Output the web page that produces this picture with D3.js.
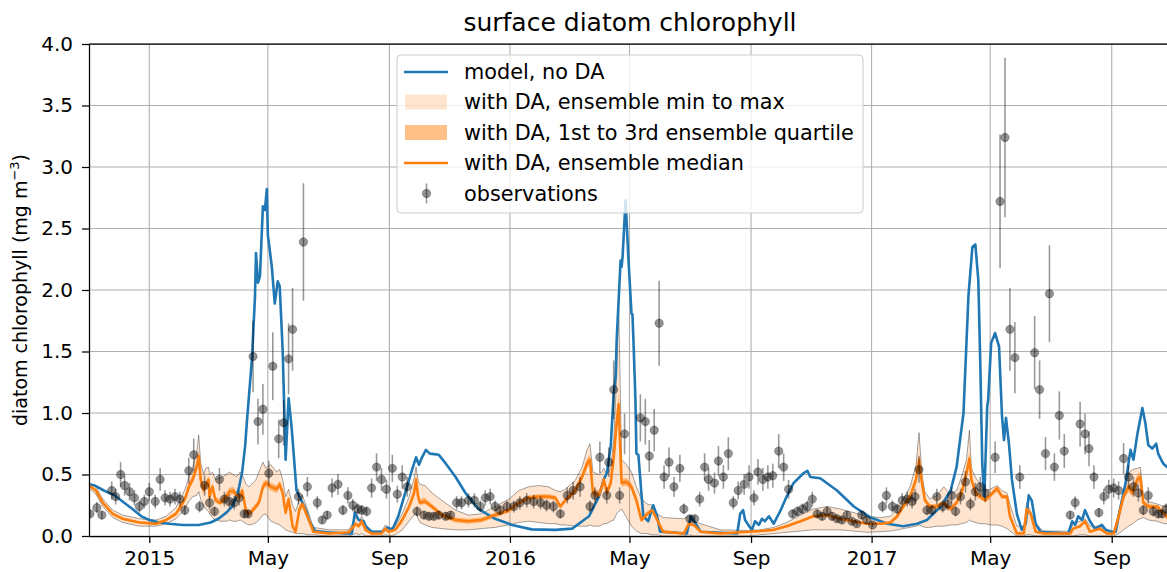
<!DOCTYPE html>
<html><head><meta charset="utf-8">
<script src="https://cdn.jsdelivr.net/npm/d3@7"></script>
<style>body{margin:0;background:#fff;} svg{display:block;font-family:"DejaVu Sans",sans-serif;}</style>
</head><body><svg id="chart" width="1167" height="572"></svg>
<script>
// ---- DATA (days are counted from 2015-01-01) ----
const modelNoDA = [[-61,0.42],[-55,0.41],[-46,0.37],[-35,0.33],[-27,0.28],[-17,0.22],[-8,0.16],[0,0.13],[10,0.11],[20,0.10],[34,0.09],[50,0.09],[62,0.11],[70,0.14],[78,0.19],[84,0.24],[88,0.32],[91,0.40],[94,0.52],[97,0.73],[99,0.95],[101,1.15],[104,1.45],[107,1.95],[108,2.30],[110,2.06],[112,2.11],[115,2.68],[117,2.65],[119,2.82],[120,2.45],[124,2.19],[127,1.89],[130,2.07],[132,2.03],[135,1.51],[137,0.92],[138,0.62],[141,1.12],[144,0.89],[149,0.37],[155,0.27],[159,0.20],[162,0.12],[168,0.04],[180,0.03],[199,0.02],[205,0.02],[208,0.19],[212,0.13],[217,0.12],[219,0.08],[225,0.035],[236,0.035],[241,0.07],[246,0.05],[252,0.16],[259,0.35],[266,0.54],[270,0.64],[273,0.58],[276,0.64],[280,0.70],[284,0.67],[293,0.66],[300,0.59],[310,0.48],[320,0.35],[333,0.22],[350,0.14],[367,0.09],[387,0.054],[411,0.05],[428,0.06],[445,0.16],[455,0.32],[460,0.46],[463,0.51],[467,0.73],[470,1.16],[472,1.3],[473,1.59],[475,1.92],[477,2.24],[478,2.19],[479,2.27],[482,2.73],[485,2.24],[488,1.81],[489,1.80],[490,1.59],[492,1.11],[493,0.67],[495,0.66],[498,0.35],[500,0.16],[505,0.12],[510,0.25],[514,0.16],[517,0.035],[544,0.02],[548,0.16],[553,0.10],[558,0.035],[595,0.02],[598,0.18],[601,0.21],[603,0.13],[607,0.08],[610,0.05],[613,0.12],[617,0.09],[620,0.14],[623,0.12],[627,0.16],[632,0.10],[639,0.21],[645,0.32],[652,0.43],[662,0.51],[666,0.53],[669,0.48],[679,0.47],[696,0.37],[713,0.24],[730,0.15],[747,0.10],[763,0.08],[777,0.10],[787,0.13],[801,0.24],[811,0.37],[817,0.56],[824,1.0],[829,1.95],[833,2.35],[836,2.37],[839,2.08],[841,1.40],[843,0.59],[845,0.30],[848,1.05],[849,1.11],[852,1.57],[856,1.65],[860,1.54],[863,0.97],[865,0.78],[867,0.96],[870,0.75],[873,0.46],[878,0.18],[883,0.05],[887,0.10],[890,0.33],[893,0.29],[897,0.10],[902,0.035],[930,0.02],[934,0.12],[937,0.09],[940,0.16],[944,0.13],[947,0.21],[952,0.12],[957,0.06],[964,0.09],[968,0.05],[974,0.035],[978,0.035],[981,0.16],[988,0.43],[993,0.70],[996,0.62],[1000,0.83],[1005,1.04],[1008,0.92],[1011,0.74],[1015,0.71],[1019,0.75],[1021,0.67],[1026,0.59],[1030,0.56],[1034,0.55]];

const ensDays = [-61,-54,-47,-37,-27,-10,7,17,27,34, 37,40,44,48,50,52,55,57,60,61, 64,67,72,78,81,85,88,92,94,98, 101,106,108,111,115,118,123,129,132,135, 138,141,145,148,152,155,160,164,166,182, 202,209,212,215,219,225,235,239,242,249, 256,263,268,270,272,274,279,286,296,310, 323,336,350,364,374,384,394,404,411,416, 421,431,438,443,446,449,455,458,460,463, 467,470,473,475,478,483,488,493,498,504, 509,514,520,541,546,551,558,578,605,618, 632,645,659,672,686,699,713,726,740,750, 757,763,770,776,779,782,785,790,797,804, 811,817,822,827,830,832,836,841,846,851, 858,863,868,871,878,885,888,892,897,905, 932,935,942,947,952,962,969,976,981,986, 991,995,1000,1003,1006,1011,1020,1027,1030,1034];
const ensMin = [0.39,0.34,0.24,0.15,0.11,0.08,0.08,0.10,0.14,0.20, 0.24,0.28,0.32,0.33,0.36,0.30,0.25,0.22,0.20,0.18, 0.15,0.13,0.12,0.12,0.13,0.12,0.12,0.13,0.12,0.10, 0.09,0.10,0.11,0.13,0.17,0.18,0.12,0.10,0.09,0.07, 0.05,0.04,0.03,0.02,0.02,0.02,0.01,0.01,0.01,0.0, 0.0,0.02,0.01,0.02,0.0,0.0,0.0,0.01,0.0,0.01, 0.05,0.12,0.17,0.19,0.14,0.11,0.09,0.07,0.06,0.05, 0.05,0.06,0.07,0.09,0.11,0.12,0.11,0.10,0.10,0.09, 0.09,0.08,0.08,0.08,0.09,0.08,0.08,0.09,0.10,0.10, 0.12,0.13,0.18,0.20,0.22,0.15,0.08,0.04,0.02,0.02, 0.01,0.01,0.0,0.0,0.01,0.0,0.0,0.0,0.0,0.01, 0.02,0.03,0.04,0.05,0.05,0.05,0.04,0.03,0.035,0.04, 0.05,0.06,0.07,0.08,0.09,0.08,0.07,0.07,0.08,0.08, 0.09,0.09,0.10,0.11,0.13,0.12,0.11,0.10,0.10,0.09, 0.09,0.08,0.06,0.04,0.0,0.0,0.01,0.01,0.0,0.0, 0.0,0.0,0.01,0.01,0.0,0.0,0.0,0.0,0.02,0.05, 0.08,0.10,0.13,0.14,0.15,0.13,0.12,0.10,0.10,0.10];
const ensQ1 = [0.40,0.36,0.26,0.17,0.13,0.10,0.09,0.12,0.17,0.25, 0.30,0.37,0.43,0.52,0.60,0.43,0.34,0.38,0.43,0.29, 0.37,0.27,0.25,0.29,0.33,0.34,0.30,0.29,0.34,0.18, 0.16,0.20,0.22,0.25,0.37,0.40,0.37,0.35,0.39,0.32, 0.17,0.27,0.07,0.03,0.19,0.23,0.14,0.07,0.03,0.015, 0.02,0.08,0.07,0.10,0.04,0.015,0.015,0.05,0.03,0.04, 0.11,0.22,0.32,0.43,0.29,0.25,0.26,0.22,0.15,0.11, 0.10,0.11,0.15,0.19,0.25,0.29,0.30,0.30,0.29,0.22, 0.27,0.34,0.45,0.55,0.58,0.32,0.30,0.37,0.43,0.32, 0.40,0.58,0.84,0.98,0.40,0.41,0.37,0.26,0.11,0.16, 0.19,0.11,0.03,0.015,0.09,0.08,0.03,0.015,0.03,0.035, 0.045,0.07,0.11,0.15,0.16,0.13,0.11,0.09,0.09,0.10, 0.14,0.22,0.29,0.42,0.57,0.40,0.27,0.22,0.22,0.25, 0.20,0.25,0.32,0.47,0.58,0.43,0.32,0.30,0.27,0.31, 0.36,0.30,0.30,0.14,0.015,0.015,0.20,0.16,0.03,0.015, 0.015,0.05,0.07,0.11,0.03,0.05,0.015,0.015,0.14,0.29, 0.36,0.32,0.42,0.44,0.25,0.22,0.22,0.17,0.14,0.13];
const ensMedian = [0.41,0.37,0.27,0.18,0.14,0.11,0.10,0.13,0.18,0.27, 0.32,0.40,0.46,0.56,0.65,0.46,0.37,0.41,0.46,0.32, 0.40,0.29,0.27,0.32,0.36,0.37,0.33,0.32,0.37,0.20, 0.18,0.22,0.24,0.27,0.40,0.43,0.40,0.38,0.42,0.35, 0.19,0.30,0.08,0.035,0.22,0.26,0.16,0.08,0.035,0.02, 0.03,0.10,0.08,0.12,0.05,0.02,0.02,0.06,0.035,0.05, 0.13,0.24,0.35,0.46,0.32,0.27,0.28,0.24,0.17,0.13, 0.12,0.13,0.17,0.21,0.27,0.31,0.32,0.32,0.31,0.24, 0.29,0.37,0.48,0.59,0.62,0.35,0.33,0.40,0.46,0.35, 0.43,0.64,0.92,1.07,0.43,0.44,0.40,0.29,0.13,0.18, 0.21,0.13,0.035,0.02,0.10,0.09,0.035,0.02,0.035,0.04, 0.05,0.08,0.12,0.16,0.17,0.14,0.12,0.10,0.10,0.11, 0.16,0.24,0.32,0.46,0.62,0.43,0.29,0.24,0.24,0.27, 0.22,0.27,0.35,0.51,0.63,0.46,0.35,0.32,0.29,0.33, 0.39,0.32,0.32,0.16,0.02,0.02,0.22,0.18,0.035,0.02, 0.02,0.06,0.08,0.12,0.035,0.06,0.02,0.02,0.16,0.32, 0.40,0.35,0.46,0.48,0.27,0.24,0.24,0.18,0.15,0.14];
const ensQ3 = [0.42,0.38,0.28,0.19,0.15,0.12,0.11,0.14,0.20,0.29, 0.35,0.43,0.50,0.60,0.70,0.50,0.41,0.44,0.49,0.36, 0.43,0.32,0.30,0.35,0.39,0.40,0.36,0.35,0.40,0.23, 0.20,0.25,0.27,0.30,0.44,0.46,0.43,0.41,0.45,0.38, 0.22,0.33,0.10,0.05,0.25,0.29,0.18,0.09,0.04,0.025, 0.035,0.11,0.09,0.13,0.06,0.025,0.025,0.07,0.04,0.06, 0.15,0.26,0.38,0.49,0.35,0.30,0.31,0.26,0.19,0.15, 0.14,0.15,0.19,0.23,0.29,0.33,0.34,0.34,0.33,0.26, 0.31,0.40,0.51,0.63,0.66,0.39,0.37,0.43,0.49,0.39, 0.47,0.70,1.00,1.16,0.47,0.47,0.43,0.32,0.15,0.20, 0.23,0.15,0.05,0.03,0.11,0.10,0.04,0.025,0.04,0.045, 0.055,0.09,0.13,0.17,0.18,0.15,0.13,0.11,0.11,0.12, 0.18,0.26,0.35,0.50,0.67,0.46,0.31,0.26,0.26,0.29, 0.24,0.29,0.38,0.55,0.68,0.49,0.38,0.34,0.31,0.35, 0.40,0.34,0.33,0.18,0.03,0.03,0.24,0.19,0.045,0.025, 0.025,0.07,0.09,0.13,0.045,0.07,0.025,0.025,0.18,0.35, 0.44,0.39,0.50,0.52,0.29,0.26,0.25,0.20,0.17,0.16];
const ensMax = [0.43,0.40,0.30,0.21,0.17,0.14,0.13,0.16,0.23,0.34, 0.40,0.48,0.56,0.68,0.82,0.60,0.50,0.55,0.56,0.50, 0.52,0.46,0.47,0.50,0.52,0.50,0.48,0.52,0.50,0.42, 0.40,0.44,0.46,0.52,0.60,0.55,0.58,0.52,0.54,0.46, 0.32,0.38,0.25,0.20,0.30,0.33,0.22,0.12,0.07,0.05, 0.05,0.15,0.12,0.16,0.09,0.04,0.04,0.09,0.06,0.08, 0.18,0.32,0.47,0.56,0.45,0.42,0.41,0.35,0.29,0.21, 0.17,0.18,0.24,0.30,0.37,0.40,0.41,0.40,0.37,0.36, 0.38,0.45,0.56,0.70,0.75,0.52,0.50,0.52,0.55,0.50, 0.55,0.78,1.30,1.90,0.62,0.58,0.52,0.40,0.30,0.26, 0.25,0.18,0.15,0.14,0.16,0.12,0.10,0.05,0.045,0.05, 0.07,0.11,0.17,0.22,0.24,0.22,0.19,0.16,0.15,0.16, 0.22,0.30,0.40,0.58,0.84,0.50,0.36,0.30,0.33,0.40, 0.34,0.37,0.48,0.62,0.86,0.55,0.48,0.42,0.37,0.38, 0.41,0.37,0.35,0.26,0.08,0.08,0.27,0.20,0.10,0.04, 0.04,0.10,0.12,0.14,0.08,0.08,0.04,0.03,0.19,0.37, 0.51,0.54,0.55,0.56,0.32,0.28,0.26,0.24,0.24,0.22];

const obsDays = [-60,-53,-48,-38,-34,-29,-25,-20,-15,-10,-5,0,6,11,16,21,26,31,36,40,45,51,56,61,66,71,76,81,86,91,96,100,105,110,115,121,125,131,136,141,145,151,156,160,170,175,180,185,191,196,201,206,211,215,220,225,230,235,240,246,251,256,261,271,278,283,288,293,300,305,311,316,323,329,335,340,345,350,355,362,369,375,382,389,396,402,409,416,423,429,436,446,451,456,463,465,470,476,481,497,502,506,511,516,521,526,531,537,541,547,552,557,562,566,572,576,581,586,591,596,602,607,612,616,621,626,631,637,642,647,651,656,661,666,671,676,681,686,691,696,701,706,711,716,721,726,732,742,746,752,757,762,767,772,775,779,787,792,797,803,808,812,816,821,826,831,836,841,846,856,861,866,871,876,881,896,901,907,911,916,921,926,932,937,942,947,951,956,961,966,971,976,981,986,991,996,1001,1006,1011,1016,1021,1025,1029];
const obsValues = [0.18,0.23,0.17,0.37,0.32,0.50,0.41,0.36,0.31,0.24,0.28,0.36,0.28,0.46,0.31,0.30,0.32,0.30,0.21,0.53,0.66,0.24,0.41,0.27,0.20,0.46,0.30,0.28,0.27,0.31,0.18,0.18,1.46,0.93,1.03,0.51,1.38,0.79,0.92,1.44,1.68,0.32,2.39,0.40,0.27,0.13,0.17,0.39,0.42,0.21,0.33,0.25,0.22,0.21,0.20,0.39,0.56,0.46,0.38,0.55,0.34,0.48,0.40,0.20,0.17,0.16,0.16,0.17,0.16,0.17,0.27,0.27,0.29,0.29,0.24,0.31,0.32,0.24,0.21,0.24,0.24,0.27,0.29,0.28,0.27,0.25,0.24,0.18,0.33,0.37,0.40,0.24,0.33,0.64,0.33,0.60,1.19,0.33,0.83,0.96,0.93,0.65,0.86,1.73,0.48,0.60,0.40,0.55,0.22,0.14,0.14,0.30,0.56,0.46,0.43,0.61,0.48,0.67,0.27,0.37,0.42,0.48,0.31,0.52,0.46,0.48,0.49,0.69,0.56,0.38,0.18,0.20,0.22,0.24,0.30,0.18,0.16,0.20,0.16,0.14,0.13,0.17,0.12,0.10,0.17,0.13,0.09,0.24,0.33,0.24,0.22,0.29,0.30,0.28,0.32,0.54,0.21,0.21,0.32,0.24,0.26,0.33,0.20,0.32,0.44,0.26,0.36,0.40,0.35,0.64,2.72,3.24,1.68,1.45,0.48,1.49,1.19,0.67,1.97,0.56,0.98,0.69,0.17,0.27,0.91,0.83,0.71,0.48,0.19,0.32,0.38,0.39,0.37,0.63,0.48,0.40,0.35,0.21,0.33,0.20,0.18,0.18,0.22];
const obsRelError = 0.2;

const xTickDates = ["2015-01-01","2015-05-01","2015-09-01","2016-01-01","2016-05-01","2016-09-01","2017-01-01","2017-05-01","2017-09-01"];
const xTickLabels = ["2015","May","Sep","2016","May","Sep","2017","May","Sep"];
const yTicks = [0,0.5,1.0,1.5,2.0,2.5,3.0,3.5,4.0];
const legendLabels = ["model, no DA","with DA, ensemble min to max","with DA, 1st to 3rd ensemble quartile","with DA, ensemble median","observations"];

// ---- CHART ----
const C0 = "#1f77b4", C1 = "#ff7f0e";
const FS = 20;
const L = 89, R = 1171, T = 44, B = 536;
const base = Date.UTC(2015,0,1);
const toDate = d => new Date(base + d*86400000);
const parseD = s => { const p = s.split("-").map(Number); return new Date(Date.UTC(p[0],p[1]-1,p[2])); };

const svg = d3.select("#chart");
const x = d3.scaleUtc().domain([new Date(Date.UTC(2014,10,1)), new Date(Date.UTC(2017,9,31))]).range([L,R]);
const y = d3.scaleLinear().domain([0,4]).range([B,T]);

svg.append("defs").append("clipPath").attr("id","clip")
  .append("rect").attr("x",L).attr("y",T).attr("width",R-L).attr("height",B-T);

// grid
const grid = svg.append("g").attr("stroke","#b0b0b0").attr("stroke-width",1.1);
xTickDates.forEach(s => grid.append("line").attr("x1",x(parseD(s))).attr("x2",x(parseD(s))).attr("y1",T).attr("y2",B));
yTicks.forEach(v => grid.append("line").attr("x1",L).attr("x2",R).attr("y1",y(v)).attr("y2",y(v)));

const plot = svg.append("g").attr("clip-path","url(#clip)");
const idx = d3.range(ensDays.length);

plot.append("path").datum(idx)
  .attr("d", d3.area().x(i=>x(toDate(ensDays[i]))).y0(i=>y(ensMin[i])).y1(i=>y(ensMax[i])))
  .attr("fill",C1).attr("fill-opacity",0.2);
plot.append("path").datum(idx)
  .attr("d", d3.area().x(i=>x(toDate(ensDays[i]))).y0(i=>y(ensQ1[i])).y1(i=>y(ensQ3[i])))
  .attr("fill",C1).attr("fill-opacity",0.5);
[ensMin, ensMax].forEach(arr => {
  plot.append("path").datum(idx)
    .attr("d", d3.line().x(i=>x(toDate(ensDays[i]))).y(i=>y(arr[i])))
    .attr("fill","none").attr("stroke","#000").attr("stroke-opacity",0.6).attr("stroke-width",0.6);
});

plot.append("path").datum(modelNoDA)
  .attr("d", d3.line().x(d=>x(toDate(d[0]))).y(d=>y(d[1])))
  .attr("fill","none").attr("stroke",C0).attr("stroke-width",2.6).attr("stroke-linejoin","round");

plot.append("path").datum(idx)
  .attr("d", d3.line().x(i=>x(toDate(ensDays[i]))).y(i=>y(ensMedian[i])))
  .attr("fill","none").attr("stroke",C1).attr("stroke-width",2.6).attr("stroke-linejoin","round");

const og = plot.append("g");
obsDays.forEach((d,i) => {
  const v = obsValues[i], cx = x(toDate(d));
  og.append("line").attr("x1",cx).attr("x2",cx)
    .attr("y1",y(v*(1-obsRelError))).attr("y2",y(v*(1+obsRelError)))
    .attr("stroke","#000").attr("stroke-opacity",0.4).attr("stroke-width",1.6);
  og.append("circle").attr("cx",cx).attr("cy",y(v)).attr("r",4.2)
    .attr("fill","#000").attr("fill-opacity",0.42)
    .attr("stroke","#000").attr("stroke-opacity",0.25).attr("stroke-width",1);
});

// axes
const xAxis = d3.axisBottom(x).tickValues(xTickDates.map(parseD))
  .tickFormat((d,i)=>xTickLabels[i]).tickSize(7).tickPadding(8).tickSizeOuter(0);
const yAxis = d3.axisLeft(y).tickValues(yTicks).tickFormat(d3.format(".1f"))
  .tickSize(7).tickPadding(9).tickSizeOuter(0);
const gx = svg.append("g").attr("transform",`translate(0,${B})`).call(xAxis);
const gy = svg.append("g").attr("transform",`translate(${L},0)`).call(yAxis);
[gx,gy].forEach(g => {
  g.selectAll("text").attr("font-size",FS).attr("font-family","DejaVu Sans").attr("fill","#000");
  g.selectAll("line").attr("stroke","#000").attr("stroke-width",1.25);
  g.select(".domain").attr("stroke","#000").attr("stroke-width",1.25);
});
svg.append("line").attr("x1",L).attr("x2",R).attr("y1",T).attr("y2",T).attr("stroke","#000").attr("stroke-width",1.25);

// title and label
svg.append("text").attr("x",(L+R)/2).attr("y",31).attr("text-anchor","middle")
  .attr("font-size",25).text("surface diatom chlorophyll");
const yl = svg.append("text").attr("transform","translate(27,290) rotate(-90)")
  .attr("text-anchor","middle").attr("font-size",19);
yl.append("tspan").text("diatom chlorophyll (mg m");
yl.append("tspan").attr("font-size",13).attr("dy",-8).text("\u22123");
yl.append("tspan").attr("dy",8).text(")");

// legend
const LFS = 20.8;
const lg = svg.append("g");
lg.append("rect").attr("x",397).attr("y",55).attr("width",466).attr("height",158).attr("rx",4)
  .attr("fill","#fff").attr("fill-opacity",0.8).attr("stroke","#ccc").attr("stroke-width",1);
const rowY = [72,102,132.5,163,193.5];
lg.append("line").attr("x1",404).attr("x2",448).attr("y1",rowY[0]).attr("y2",rowY[0]).attr("stroke",C0).attr("stroke-width",2.6);
lg.append("rect").attr("x",405).attr("y",rowY[1]-7.5).attr("width",42).attr("height",15).attr("fill",C1).attr("fill-opacity",0.2);
lg.append("rect").attr("x",405).attr("y",rowY[2]-7.5).attr("width",42).attr("height",15).attr("fill",C1).attr("fill-opacity",0.5);
lg.append("line").attr("x1",404).attr("x2",448).attr("y1",rowY[3]).attr("y2",rowY[3]).attr("stroke",C1).attr("stroke-width",2.6);
lg.append("line").attr("x1",426.5).attr("x2",426.5).attr("y1",rowY[4]-10).attr("y2",rowY[4]+10).attr("stroke","#000").attr("stroke-opacity",0.4).attr("stroke-width",1.6);
lg.append("circle").attr("cx",426.5).attr("cy",rowY[4]).attr("r",4.2).attr("fill","#000").attr("fill-opacity",0.42).attr("stroke","#000").attr("stroke-opacity",0.25);
legendLabels.forEach((t,i) => lg.append("text").attr("x",464).attr("y",rowY[i]).attr("dy","0.35em").attr("font-size",LFS).text(t));
</script></body></html>
